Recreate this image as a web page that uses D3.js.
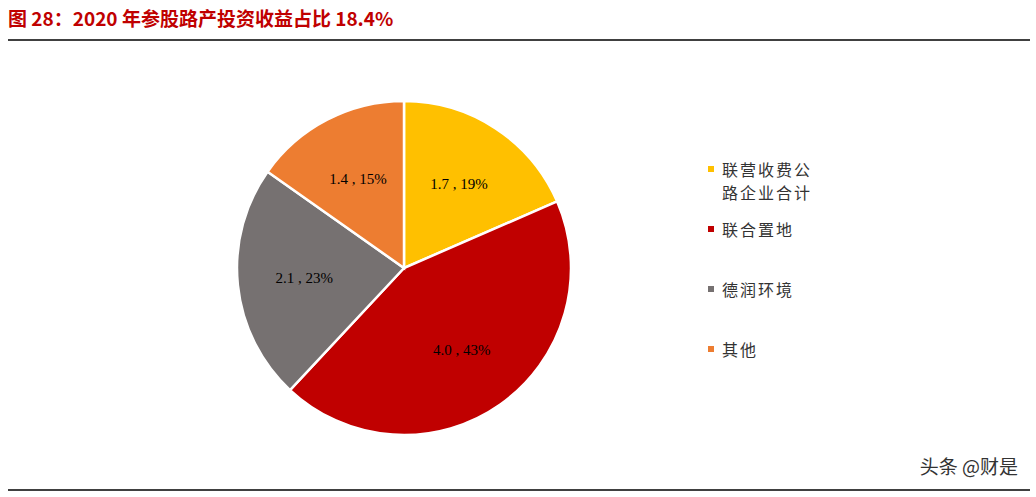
<!DOCTYPE html><html><head><meta charset="utf-8"><script src="https://cdn.jsdelivr.net/npm/d3@7"></script>
<style>body{margin:0;background:#fff}</style></head><body><svg id="c" width="1036" height="497"></svg>
<script>
const categories=["联营收费公路企业合计","联合置地","德润环境","其他"];
const values=[1.7,4.0,2.1,1.4];
const percents=["19%","43%","23%","15%"];
const colors=["#FFC000","#C00000","#767171","#ED7D31"];
const svg=d3.select("#c");
svg.append("text").attr("x",8).attr("y",26).attr("fill","#C00000").attr("font-weight","bold")
 .attr("font-family","'Noto Sans CJK SC',sans-serif").attr("font-size",19).text("图 28：2020 年参股路产投资收益占比 18.4%");
svg.append("line").attr("x1",8).attr("x2",1030).attr("y1",40).attr("y2",40).attr("stroke","#000").attr("stroke-width",1.5);
svg.append("line").attr("x1",8).attr("x2",1030).attr("y1",490).attr("y2",490).attr("stroke","#000").attr("stroke-width",1.5);
const cx=404,cy=268,r=167;
const pie=d3.pie().sort(null)(values);
const arc=d3.arc().innerRadius(0).outerRadius(r);
const g=svg.append("g").attr("transform",`translate(${cx},${cy})`);
g.selectAll("path").data(pie).join("path").attr("d",arc).attr("fill",(d,i)=>colors[i]).attr("stroke","#fff").attr("stroke-width",2.5);
const la=d3.arc().innerRadius(r*0.6).outerRadius(r*0.6);
g.selectAll("text").data(pie).join("text").attr("transform",d=>`translate(${la.centroid(d)})`)
 .attr("text-anchor","middle").attr("dy","0.35em").attr("font-family","'Liberation Serif',serif").attr("font-size",15).attr("fill","#000")
 .text((d,i)=>`${values[i].toFixed(1)} , ${percents[i]}`);
const lg=[[170,["联营收费公","路企业合计"]],[230,["联合置地"]],[290,["德润环境"]],[350,["其他"]]];
lg.forEach((l,i)=>{
 svg.append("rect").attr("x",708).attr("y",l[0]-4).attr("width",6).attr("height",6).attr("fill",colors[i]);
 l[1].forEach((t,j)=>svg.append("text").attr("x",722).attr("y",l[0]+6+j*23).attr("font-family","'Noto Sans CJK SC',serif").attr("font-size",16).attr("fill","#333").attr("letter-spacing",2).text(t));
});
svg.append("text").attr("x",1018).attr("y",474).attr("text-anchor","end").attr("font-family","'Noto Sans CJK SC',sans-serif").attr("font-size",19).attr("fill","#333").text("头条 @财是");
</script></body></html>
